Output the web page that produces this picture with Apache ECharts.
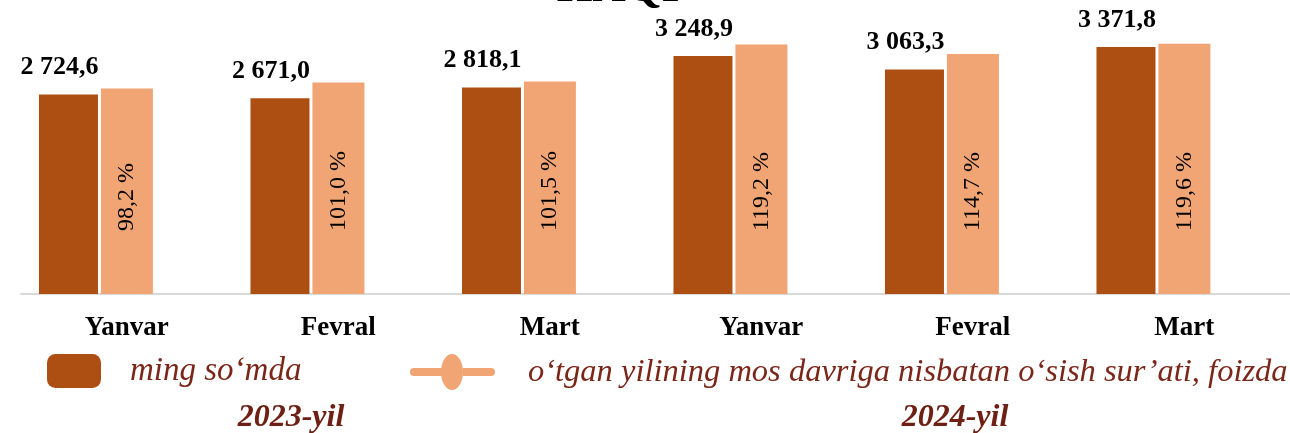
<!DOCTYPE html>
<html>
<head>
<meta charset="utf-8">
<script src="https://cdn.jsdelivr.net/npm/echarts@6/dist/echarts.min.js"></script>
<style>html,body{margin:0;padding:0;background:#fff}#c{width:1290px;height:433px}</style>
</head>
<body>
<div id="c"></div>
<script>
const categories = ['Yanvar', 'Fevral', 'Mart', 'Yanvar', 'Fevral', 'Mart'];
const wages = [2724.6, 2671.0, 2818.1, 3248.9, 3063.3, 3371.8];
const growth = [98.2, 101.0, 101.5, 119.2, 114.7, 119.6];
const seriesNames = ['ming so‘mda', 'o‘tgan yilining mos davriga nisbatan o‘sish sur’ati, foizda'];
const yearLabels = ['2023-yil', '2024-yil'];
const titleText = 'HAQI';

const DARK = '#AD4E13';
const LIGHT = '#F1A574';
const MAROON = '#7A2619';
const SERIF = '"Liberation Serif", "Times New Roman", serif';

function fmtWage(v) {
  const parts = v.toFixed(1).split('.');
  const intPart = parts[0].replace(/\B(?=(\d{3})+(?!\d))/g, ' ');
  return intPart + ',' + parts[1];
}
function fmtPct(v) { return v.toFixed(1).replace('.', ',') + ' %'; }

const chart = echarts.init(document.getElementById('c'), null, {renderer: 'canvas'});
const lineIcon = 'path://M4,14 L32,14 L32,22 L4,22 A4,4 0 0 1 4,14 Z M53,14 L81,14 A4,4 0 0 1 81,22 L53,22 Z M42,0 A11,18 0 1 1 42,36 A11,18 0 1 1 42,0 Z';

chart.setOption({
  animation: false,
  backgroundColor: '#fff',
  grid: {left: 21, right: 0, top: 1, bottom: 139, containLabel: false},
  xAxis: {
    type: 'category',
    data: categories,
    axisLine: {show: true, lineStyle: {color: '#D9D9D9', width: 2}},
    axisTick: {show: false},
    axisLabel: {margin: 21, fontFamily: SERIF, fontWeight: 'bold', fontSize: 27, color: '#000'}
  },
  yAxis: [
    {type: 'value', min: 0, max: 4000, show: false, splitLine: {show: false}},
    {type: 'value', min: 0, max: 140, show: false, splitLine: {show: false}}
  ],
  legend: [
    {
      data: [seriesNames[0]], left: 47, top: 354, padding: 0,
      itemWidth: 54, itemHeight: 34, icon: 'roundRect',
      textStyle: {fontFamily: SERIF, fontStyle: 'italic', fontSize: 33, color: MAROON, padding: [0, 0, 0, 24]}
    },
    {
      data: [{name: seriesNames[1], icon: lineIcon}], left: 410, top: 354, padding: 0,
      itemWidth: 85, itemHeight: 36, symbolKeepAspect: false,
      textStyle: {fontFamily: SERIF, fontStyle: 'italic', fontSize: 32.5, color: MAROON, padding: [0, 0, 0, 28]}
    }
  ],
  graphic: [
    {type: 'text', silent: true, x: 618, y: -11,
      style: {text: titleText, x: 0, y: 0, align: 'center', verticalAlign: 'middle', font: 'bold 46px ' + SERIF, fill: '#000'}},
    {type: 'text', silent: true,
      style: {text: yearLabels[0], x: 291, y: 418, align: 'center', verticalAlign: 'middle',
        font: 'italic bold 32px ' + SERIF, fill: '#6E2015'}},
    {type: 'text', silent: true,
      style: {text: yearLabels[1], x: 955, y: 418, align: 'center', verticalAlign: 'middle',
        font: 'italic bold 32px ' + SERIF, fill: '#6E2015'}}
  ],
  series: [
    {
      name: seriesNames[0], type: 'bar', data: wages, barWidth: 59, barGap: '5%',
      itemStyle: {color: DARK},
      label: {show: true, position: 'top', distance: 14, offset: [-9, 0],
        fontFamily: SERIF, fontWeight: 'bold', fontSize: 26, color: '#000',
        formatter: p => fmtWage(p.value)}
    },
    {
      name: seriesNames[1], type: 'bar', yAxisIndex: 1, data: growth, barWidth: 52, barGap: '5%',
      itemStyle: {color: LIGHT},
      label: {show: true, position: 'insideBottom', distance: 63, rotate: 90, align: 'left', verticalAlign: 'middle',
        fontFamily: SERIF, fontSize: 24, color: '#000',
        formatter: p => fmtPct(p.value)}
    },
    {
      name: 'spacer', type: 'bar', data: [], barWidth: 59, barGap: '5%', silent: true
    }
  ]
});
</script>
</body>
</html>
